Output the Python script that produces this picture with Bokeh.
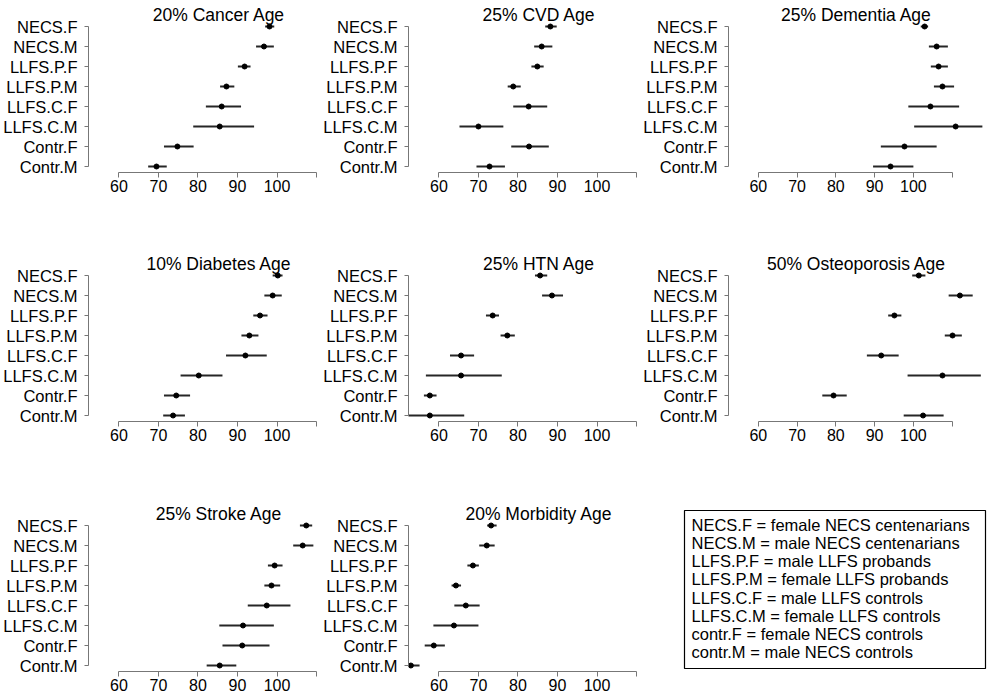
from bokeh.plotting import figure
from bokeh.layouts import row, column
from bokeh.models import Range1d, FixedTicker, Label, ColumnDataSource
from bokeh.core.properties import value
from bokeh.embed import file_html
from bokeh.resources import INLINE

groups = ["NECS.F", "NECS.M", "LLFS.P.F", "LLFS.P.M", "LLFS.C.F", "LLFS.C.M", "Contr.F", "Contr.M"]
x_ticks = [60, 70, 80, 90, 100, 110]
x_tick_labels = ["60", "70", "80", "90", "100", ""]

titles = ["20% Cancer Age", "25% CVD Age", "25% Dementia Age",
          "10% Diabetes Age", "25% HTN Age", "50% Osteoporosis Age",
          "25% Stroke Age", "20% Morbidity Age"]

cancer_est = [98.1, 96.7, 91.8, 87.2, 86.0, 85.5, 74.8, 69.5]
cancer_lo = [97.0, 94.7, 90.1, 85.6, 82.0, 78.8, 71.4, 67.4]
cancer_hi = [99.3, 99.2, 93.3, 89.2, 90.9, 94.2, 78.9, 72.1]

cvd_est = [88.2, 86.0, 84.9, 78.8, 82.7, 70.0, 82.8, 72.8]
cvd_lo = [86.9, 84.1, 83.4, 77.4, 78.8, 65.2, 78.3, 69.5]
cvd_hi = [89.8, 88.7, 86.5, 80.7, 87.4, 76.3, 87.8, 76.7]

dementia_est = [102.9, 106.0, 106.5, 107.5, 104.4, 110.9, 97.7, 94.1]
dementia_lo = [101.9, 104.0, 104.5, 105.3, 98.7, 100.2, 91.6, 89.6]
dementia_hi = [103.8, 108.9, 108.9, 110.5, 111.8, 117.8, 106.0, 100.0]

diabetes_est = [100.2, 98.9, 95.7, 93.0, 92.0, 80.2, 74.5, 73.7]
diabetes_lo = [98.9, 96.8, 94.0, 91.0, 87.1, 75.6, 71.4, 71.2]
diabetes_hi = [101.4, 101.2, 97.6, 95.3, 97.4, 86.2, 78.0, 76.7]

htn_est = [85.6, 88.6, 73.6, 77.3, 65.6, 65.6, 57.7, 57.7]
htn_lo = [84.3, 86.1, 71.9, 75.6, 62.8, 56.7, 56.2, 50.0]
htn_hi = [87.4, 91.4, 75.2, 79.2, 68.9, 75.9, 59.4, 66.4]

osteo_est = [101.4, 112.0, 95.1, 110.1, 91.7, 107.5, 79.4, 102.5]
osteo_lo = [99.7, 109.1, 93.5, 108.1, 88.0, 98.5, 76.5, 97.5]
osteo_hi = [103.1, 115.3, 96.9, 112.5, 96.2, 117.4, 82.8, 107.8]

stroke_est = [107.4, 106.5, 99.4, 98.6, 97.4, 91.4, 91.2, 85.5]
stroke_lo = [105.8, 104.1, 97.7, 96.8, 92.6, 85.4, 86.2, 82.2]
stroke_hi = [108.9, 109.2, 101.4, 100.8, 103.4, 99.2, 98.1, 89.7]

morb_est = [73.2, 72.1, 68.6, 64.3, 66.8, 63.8, 58.7, 52.9]
morb_lo = [72.2, 70.2, 67.2, 63.2, 63.9, 58.6, 56.4, 51.5]
morb_hi = [74.6, 74.1, 70.1, 65.6, 70.3, 70.0, 61.5, 55.1]

legend_lines = ["NECS.F = female NECS centenarians",
                "NECS.M = male NECS centenarians",
                "LLFS.P.F = male LLFS probands",
                "LLFS.P.M = female LLFS probands",
                "LLFS.C.F = male LLFS controls",
                "LLFS.C.M = female LLFS controls",
                "contr.F = female NECS controls",
                "contr.M = male NECS controls"]

FONT = "Liberation Sans"
AXIS_GRAY = "#777777"
X0 = 52.3
PX_PER_UNIT = 3.952
Y0, Y1 = 0.7, 9.05


def make_panel(title, est, lo, hi, left, frame_w, right, height, top, bottom):
    n = len(groups)
    ypos = [n - i for i in range(n)]
    x_end = X0 + frame_w / PX_PER_UNIT
    p = figure(width=left + frame_w + right, height=height,
               x_range=Range1d(X0, x_end), y_range=Range1d(Y0, Y1),
               output_backend="svg", toolbar_location=None, title=None,
               min_border_left=left, min_border_right=right,
               min_border_top=top, min_border_bottom=bottom)
    p.outline_line_color = None
    p.grid.visible = False
    src = ColumnDataSource(dict(y=ypos, est=est, lo=lo, hi=hi))
    p.segment(x0="lo", y0="y", x1="hi", y1="y", source=src,
              line_width=2.0, line_color="#262626")
    p.scatter(x="est", y="y", source=src, size=5,
              fill_color="black", line_color="black")

    xa = p.xaxis[0]
    xa.ticker = FixedTicker(ticks=x_ticks)
    xa.bounds = (x_ticks[0], x_ticks[-1])
    xa.major_label_overrides = {t: l for t, l in zip(x_ticks, x_tick_labels)}
    xa.minor_tick_line_color = None
    xa.axis_line_color = AXIS_GRAY
    xa.major_tick_line_color = AXIS_GRAY
    xa.major_tick_in = 0
    xa.major_tick_out = 5
    xa.major_label_standoff = 2
    xa.major_label_text_font = FONT
    xa.major_label_text_font_size = "16px"
    xa.major_label_text_color = "black"

    ya = p.yaxis[0]
    ya.ticker = FixedTicker(ticks=ypos)
    ya.bounds = (1, n)
    ya.major_label_overrides = {y: g for y, g in zip(ypos, groups)}
    ya.minor_tick_line_color = None
    ya.axis_line_color = AXIS_GRAY
    ya.major_tick_line_color = AXIS_GRAY
    ya.major_tick_in = 0
    ya.major_tick_out = 4
    ya.major_label_standoff = 7
    ya.major_label_text_font = FONT
    ya.major_label_text_font_size = "16.5px"
    ya.major_label_text_color = "black"

    p.add_layout(Label(x=85.3, y=8.6, text=title, text_align="center",
                       text_baseline="middle", text_font=FONT,
                       text_font_size="17.5px", text_color="black"))
    return p


FRAME_H = int(round((Y1 - Y0) * 20))
row_heights = [250, 249, 199]
row_tops = [5, 4, 5]

cols = [(88, 232, 0), (88, 232, 0), (83, 260, 9)]

data = [(cancer_est, cancer_lo, cancer_hi), (cvd_est, cvd_lo, cvd_hi),
        (dementia_est, dementia_lo, dementia_hi),
        (diabetes_est, diabetes_lo, diabetes_hi), (htn_est, htn_lo, htn_hi),
        (osteo_est, osteo_lo, osteo_hi),
        (stroke_est, stroke_lo, stroke_hi), (morb_est, morb_lo, morb_hi)]

panels = []
for k, (est, lo, hi) in enumerate(data):
    r, c = divmod(k, 3)
    h = row_heights[r]
    t = row_tops[r]
    left, fw, right = cols[c]
    panels.append(make_panel(titles[k], est, lo, hi, left, fw, right, h, t, h - t - FRAME_H))

# legend panel: its frame shares the row's vertical borders; coordinates are page pixels
lw = sum(cols[2])
lh = row_heights[2]
row2_y = row_heights[0] + row_heights[1]
lx0 = sum(cols[0]) + sum(cols[1])
leg_top = row2_y + row_tops[2]
leg_bottom = leg_top + FRAME_H
leg = figure(width=lw, height=lh, x_range=Range1d(lx0, lx0 + lw),
             y_range=Range1d(leg_bottom, leg_top),
             output_backend="svg", toolbar_location=None, title=None,
             x_axis_type=None, y_axis_type=None,
             min_border_left=0, min_border_right=0,
             min_border_top=row_tops[2], min_border_bottom=lh - row_tops[2] - FRAME_H)
leg.outline_line_color = None
leg.grid.visible = False
leg.quad(left=[684], right=[985], top=[510], bottom=[668],
         fill_color=None, line_color="black", line_width=1.2)
leg.text(x=[691] * len(legend_lines),
         y=[524.3 + 18.2 * i for i in range(len(legend_lines))],
         text=legend_lines, text_font=value(FONT), text_font_size="16.5px",
         text_baseline="middle", text_align="left", text_color="black")

layout = column(row(panels[0], panels[1], panels[2]),
                row(panels[3], panels[4], panels[5]),
                row(panels[6], panels[7], leg))

with open("out.html", "w") as f:
    f.write(file_html(layout, INLINE))
